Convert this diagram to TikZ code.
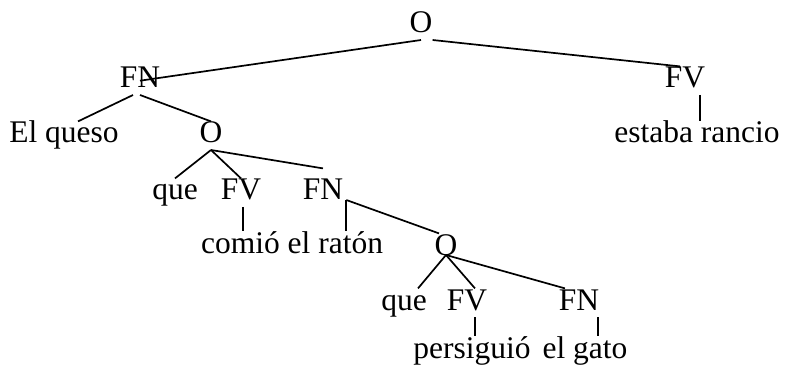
\documentclass[tikz,border=0pt]{standalone}
\usepackage{fontspec}
\setmainfont{Liberation Serif}
\begin{document}
\begin{tikzpicture}[
  x=1pt, y=-1pt,
  every node/.style={inner sep=0pt},
  word/.style={anchor=base, font=\fontsize{31.5}{37}\selectfont,
    text height=21.4pt, text depth=6.8pt},
  edge/.style={draw, line width=1.7pt}]

  \useasboundingbox (0,0) rectangle (786,371);

  % constituents
  \node[word] (o1)     at (421,33)  {O};
  \node[word] (fn1)    at (140,88)  {FN};
  \node[word] (fv1)    at (685,88)  {FV};
  \node[word] (elq)    at (64,143)  {El queso};
  \node[word] (o2)     at (211,143) {O};
  \node[word] (estaba) at (697,143) {estaba rancio};
  \node[word] (que1)   at (175,200) {que};
  \node[word] (fv2)    at (241,200) {FV};
  \node[word] (fn2)    at (323,200) {FN};
  \node[word] (comio)  at (292,253) {comió el ratón};
  \node[word] (o3)     at (446,255) {O};
  \node[word] (que2)   at (404,310) {que};
  \node[word] (fv3)    at (467,310) {FV};
  \node[word] (fn3)    at (579,310) {FN};
  \node[word] (pers)   at (472,358) {persiguió};
  \node[word] (gato)   at (585,358) {el gato};

  % branches
  \draw[edge] (o1.south) -- (fn1.center);
  \draw[edge] (o1.south east) -- ([xshift=-5pt]fv1.north);
  \draw[edge] ([xshift=-5pt]fv1.south east) -- ([xshift=-5pt]fv1.south east |- estaba.north);
  \draw[edge] ([xshift=-7pt]fn1.south) -- ([xshift=14pt]elq.north);
  \draw[edge] (fn1.south) -- (o2.north);
  \draw[edge] (o2.south) -- (que1.north);
  \draw[edge] (o2.south) -- (fv2.north);
  \draw[edge] (o2.south) -- ([yshift=10pt]fn2.north);
  \draw[edge] ([xshift=2pt]fv2.south) -- ([xshift=2pt]fv2.south |- comio.north);
  \draw[edge] ([xshift=3pt]fn2.base east) -- ([xshift=3pt]fn2.base east |- comio.north);
  \draw[edge] ([xshift=3pt]fn2.base east) -- ([xshift=-7pt]o3.north);
  \draw[edge] (o3.base) -- ([xshift=14pt]que2.north);
  \draw[edge] (o3.base) -- ([xshift=8pt]fv3.north);
  \draw[edge] (o3.base) -- ([xshift=-14pt]fn3.north);
  \draw[edge] ([xshift=8pt]fv3.south) -- ([xshift=8pt]fv3.south |- pers.north);
  \draw[edge] ([xshift=-1pt]fn3.south east) -- ([xshift=-1pt]fn3.south east |- gato.north);
\end{tikzpicture}
\end{document}
